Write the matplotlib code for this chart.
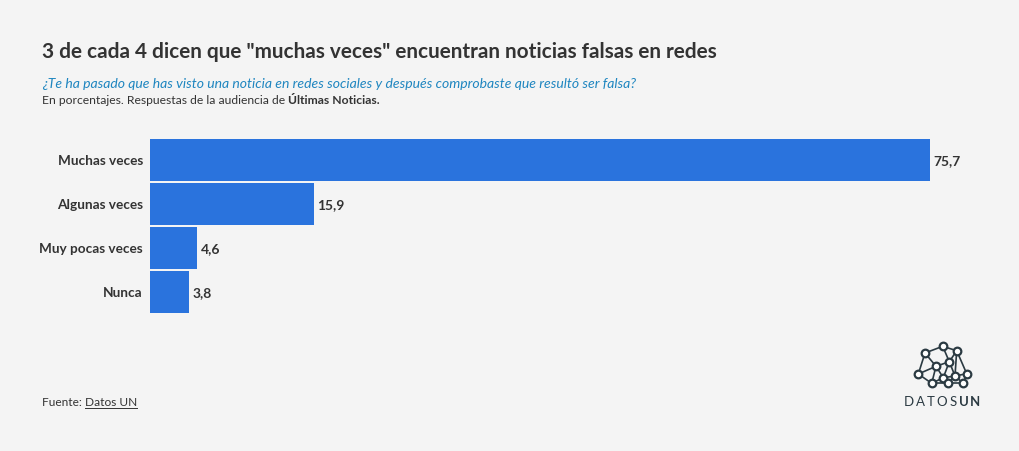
import matplotlib.pyplot as plt
from matplotlib.lines import Line2D

categorias = ['Muchas veces', 'Algunas veces', 'Muy pocas veces', 'Nunca']
valores = [75.7, 15.9, 4.6, 3.8]
etiquetas = ['75,7', '15,9', '4,6', '3,8']

W, H = 1020, 452
bg = '#f4f4f4'
azul = '#2a73dd'
oscuro = '#333333'

plt.rcParams['font.family'] = ['Lato', 'DejaVu Sans']

fig = plt.figure(figsize=(W / 100, H / 100), dpi=100, facecolor=bg)

def fx(x):
    return x / W

def fy(y):
    return 1 - y / H

# titulo y subtitulos
fig.text(fx(42), fy(52), '3 de cada 4 dicen que "muchas veces" encuentran noticias falsas en redes',
         fontsize=14.95, fontweight='bold', color=oscuro, va='center', ha='left')
fig.text(fx(42), fy(84), '¿Te ha pasado que has visto una noticia en redes sociales y después comprobaste que resultó ser falsa?',
         fontsize=10.1, style='italic', color='#1f86c0', va='center', ha='left')
t1 = fig.text(fx(42), fy(100), 'En porcentajes. Respuestas de la audiencia de ',
              fontsize=8.7, color=oscuro, va='center', ha='left')
fig.canvas.draw()
bb = t1.get_window_extent()
fig.text(bb.x1 / W, fy(100), 'Últimas Noticias.', fontsize=8.7, fontweight='bold',
         color=oscuro, va='center', ha='left')

# barras
ax = fig.add_axes([fx(150), fy(314), 780 / W, 174 / H])
ax.set_facecolor(bg)
pos = list(range(len(categorias)))
ax.barh(pos, valores, height=42 / 44, color=azul, edgecolor='none')
ax.set_xlim(0, valores[0])
ax.set_ylim(3 + 21 / 44, -21 / 44)
for s in ax.spines.values():
    s.set_visible(False)
ax.set_xticks([])
ax.set_yticks([])
for p, c, v, e in zip(pos, categorias, valores, etiquetas):
    ax.annotate(c, (0, p), xytext=(-7, 0), textcoords='offset pixels', ha='right', va='center',
                fontsize=9.8, fontweight='bold', color=oscuro, annotation_clip=False)
    ax.annotate(e, (v, p), xytext=(3, 0), textcoords='offset pixels', ha='left', va='center',
                fontsize=10, fontweight='bold', color=oscuro, annotation_clip=False)

# fuente
t2 = fig.text(fx(42), fy(403), 'Fuente: ', fontsize=8.6, color=oscuro, va='center', ha='left')
fig.canvas.draw()
bb = t2.get_window_extent()
t3 = fig.text(bb.x1 / W, fy(403), 'Datos UN', fontsize=8.6, color=oscuro, va='center', ha='left')
fig.canvas.draw()
bb3 = t3.get_window_extent()
fig.add_artist(Line2D([bb3.x0 / W, bb3.x1 / W], [fy(409), fy(409)], color=oscuro, lw=0.7))

# logo
nodos = [(942.7, 347.3), (956.7, 351.7), (925, 354), (949.3, 362.7), (936, 367.3),
         (918.3, 375), (966.7, 374.7), (943.3, 378.7), (955, 377), (931.7, 384.3),
         (948.3, 384.3), (963.3, 384.3)]
aristas = [(0, 1), (0, 2), (0, 3), (1, 3), (1, 6), (1, 8), (2, 4), (2, 5), (3, 4), (3, 8),
           (4, 5), (4, 7), (4, 9), (3, 7), (7, 8), (7, 10), (7, 9), (8, 6), (8, 11),
           (6, 11), (5, 9), (9, 10), (10, 11), (8, 10)]
logo = '#2b3a42'
for a, b in aristas:
    fig.add_artist(Line2D([fx(nodos[a][0]), fx(nodos[b][0])], [fy(nodos[a][1]), fy(nodos[b][1])],
                          color=logo, lw=1.2))
for x, y in nodos:
    fig.add_artist(Line2D([fx(x)], [fy(y)], marker='o', markersize=5.5, markerfacecolor='white',
                          markeredgecolor=logo, markeredgewidth=1.6))
for i, letra in enumerate('DATOSUN'):
    fig.text(fx(909 + i * 11), fy(402), letra, fontsize=9.5, color=logo, va='center', ha='center',
             fontweight='bold' if i >= 5 else 'normal')

fig.savefig('out.png', dpi=100, facecolor=bg)
